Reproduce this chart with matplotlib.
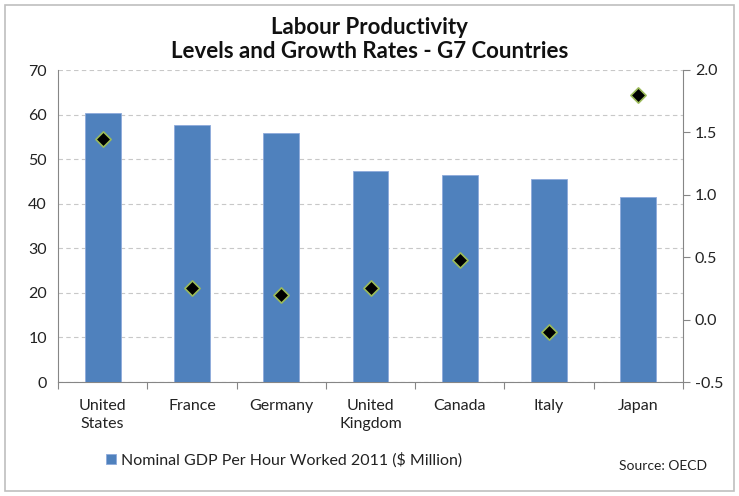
import matplotlib
matplotlib.use("Agg")
import matplotlib.pyplot as plt
from matplotlib.patches import Rectangle

countries = ["United\nStates", "France", "Germany", "United\nKingdom", "Canada", "Italy", "Japan"]
gdp_per_hour = [60.3, 57.7, 55.8, 47.3, 46.4, 45.6, 41.6]
growth_rate = [1.45, 0.25, 0.20, 0.25, 0.48, -0.10, 1.80]

plt.rcParams["font.family"] = ["Lato", "DejaVu Sans"]

fig = plt.figure(figsize=(7.39, 4.96), dpi=100)
ax = fig.add_axes([58 / 739, 1 - 382 / 496, 625 / 739, 312 / 496])
ax2 = ax.twinx()

x = list(range(len(countries)))
bar_color = "#4F81BD"
bars = ax.bar(x, gdp_per_hour, width=0.4, color=bar_color, edgecolor="#8EAADB",
              linewidth=0.6, zorder=3, label="Nominal GDP Per Hour Worked 2011 ($ Million)")
ax2.scatter(x, growth_rate, marker="D", s=60, color="black", edgecolor="#9BBB59",
            linewidth=1.2, zorder=5)

ax.set_xlim(-0.5, len(countries) - 0.5)
ax.set_ylim(0, 70)
ax.set_yticks(range(0, 71, 10))
ax2.set_ylim(-0.5, 2.0)
ax2.set_yticks([-0.5, 0.0, 0.5, 1.0, 1.5, 2.0])
ax2.set_yticklabels([f"{v:.1f}" for v in [-0.5, 0.0, 0.5, 1.0, 1.5, 2.0]])

ax.grid(axis="y", color="#C8C8C8", linestyle=(0, (4, 3)), linewidth=0.8, zorder=0)
ax.set_axisbelow(True)

# category separators on the x axis
ax.set_xticks([i + 0.5 for i in range(-1, len(countries))], minor=False)
ax.set_xticklabels([""] * (len(countries) + 1))
ax.tick_params(axis="x", which="major", length=5, color="#868686", direction="out")
ax.set_xticks(x, minor=True)
ax.set_xticklabels(countries, minor=True, fontsize=11.5, color="#222222", linespacing=1.35)
ax.tick_params(axis="x", which="minor", length=0, pad=12)

ax.tick_params(axis="y", length=0, labelsize=11.5, pad=8, colors="#222222")
ax2.tick_params(axis="y", length=5, labelsize=11.5, colors="#222222", direction="out")
ax2.tick_params(axis="y", color="#868686")

for a in (ax, ax2):
    a.spines["top"].set_visible(False)
    for side in ("left", "right", "bottom"):
        a.spines[side].set_color("#868686")
ax.spines["right"].set_visible(False)
ax2.spines["left"].set_visible(False)
ax2.spines["bottom"].set_visible(False)

fig.text(0.5, 1 - 28 / 496, "Labour Productivity", ha="center", va="center",
         fontsize=16, fontweight="bold", color="#111111")
fig.text(0.5, 1 - 51 / 496, "Levels and Growth Rates - G7 Countries", ha="center",
         va="center", fontsize=16, fontweight="bold", color="#111111")

fig.legend(handles=[bars], loc="center left", bbox_to_anchor=(92 / 739, 1 - 460 / 496),
           frameon=False, fontsize=11.5, handlelength=0.6, handleheight=0.6,
           handletextpad=0.3, labelcolor="#222222")
fig.text(619 / 739, 1 - 466 / 496, "Source: OECD", ha="left", va="center",
         fontsize=10, color="#222222")

fig.patches.append(Rectangle((5 / 739, 5 / 496), 729 / 739, 486 / 496,
                             transform=fig.transFigure, fill=False,
                             edgecolor="#BFBFBF", linewidth=1.2))

fig.savefig("out.png", dpi=100)
plt.close(fig)
